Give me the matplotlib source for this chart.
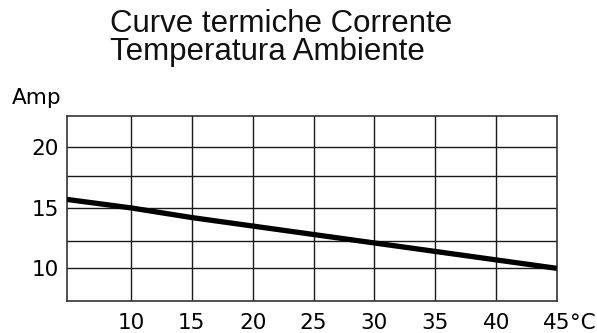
import matplotlib
matplotlib.use("Agg")
import matplotlib.pyplot as plt
import matplotlib.transforms as mtransforms

# Ambient temperature (°C) and permitted current (A)
temperature = [4.75, 10, 15, 20, 25, 30, 35, 40, 45]
current = [15.7, 15.0, 14.2, 13.5, 12.8, 12.1, 11.4, 10.7, 10.0]

x_ticks = [10, 15, 20, 25, 30, 35, 40, 45]
x_tick_labels = ["10", "15", "20", "25", "30", "35", "40", "45"]
y_ticks = [10, 15, 20]
y_tick_labels = ["10", "15", "20"]
y_minor_grid = [12.3, 17.6]

title_lines = ["Curve termiche Corrente", "Temperatura Ambiente"]
y_unit = "Amp"
x_unit = "°C"

W, H = 597, 333
fig = plt.figure(figsize=(W / 100, H / 100), dpi=100)
ax = fig.add_axes([67 / W, (H - 301) / H, 490 / W, 185 / H])

ax.set_xlim(4.75, 45)
ax.set_ylim(7.3, 22.6)

grid_kw = dict(color="#1a1a1a", lw=1.0, zorder=1)
for x in x_ticks[:-1]:
    ax.axvline(x, **grid_kw)
for y in y_ticks + y_minor_grid:
    ax.axhline(y, **grid_kw)

ax.plot(temperature, current, color="black", lw=3.8, solid_capstyle="butt", zorder=3)

FS = 15.5
ax.set_xticks(x_ticks)
ax.set_xticklabels(x_tick_labels)
ax.set_yticks(y_ticks)
ax.set_yticklabels(y_tick_labels)
ax.tick_params(axis="both", length=0, labelsize=FS, colors="black")
ax.tick_params(axis="x", pad=8.5)
ax.tick_params(axis="y", pad=6)
for sp in ax.spines.values():
    sp.set_color("#333333")
    sp.set_linewidth(1.2)

# unit after the last x tick label
trans = mtransforms.blended_transform_factory(ax.transData, ax.transAxes)
ax.annotate(x_unit, xy=(45, 0), xycoords=trans, xytext=(9.5, -8.5),
            textcoords="offset points", ha="left", va="top", fontsize=FS)

fig.text(12 / W, 1 - 98 / H, y_unit, ha="left", va="center", fontsize=15.5)

fig.text(110 / W, 1 - 24 / H, title_lines[0], ha="left", va="center",
         fontsize=22.5, family="Liberation Sans", color="#111111")
fig.text(110 / W, 1 - 52 / H, title_lines[1], ha="left", va="center",
         fontsize=22.5, family="Liberation Sans", color="#111111")

fig.savefig("out.png", dpi=100)
